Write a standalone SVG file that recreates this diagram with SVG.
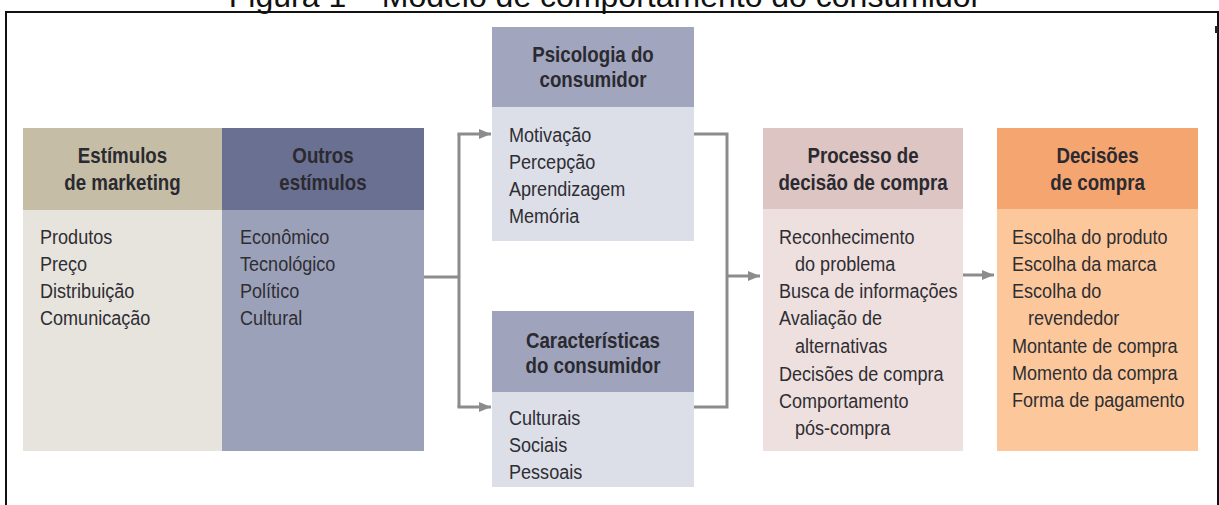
<svg xmlns="http://www.w3.org/2000/svg" width="1219" height="505" viewBox="0 0 1219 505">
<defs>
<style>
.title{font-family:"Liberation Sans",Arial,sans-serif;font-size:32px;fill:#111;text-anchor:middle}
.hd{font-family:"Liberation Sans",Arial,sans-serif;font-weight:bold;font-size:22px;fill:#2a2a30;text-anchor:middle;transform-box:fill-box;transform-origin:50% 50%;transform:scaleX(0.85)}
.bd{font-family:"Liberation Sans",Arial,sans-serif;font-size:21px;fill:#2e2e33;transform-box:fill-box;transform-origin:0% 50%;transform:scaleX(0.86)}
.conn{fill:none;stroke:#8c8c8c;stroke-width:3}
</style>
<marker id="arr" viewBox="0 0 12 10" refX="12" refY="5" markerWidth="12" markerHeight="10" markerUnits="userSpaceOnUse" orient="auto">
<path d="M0,0 L12,5 L0,10 z" fill="#8c8c8c"/>
</marker>
</defs>
<rect width="1219" height="505" fill="#ffffff"/>
<text class="title" x="605" y="7">Figura 1 – Modelo de comportamento do consumidor</text>
<rect x="6" y="12" width="1212" height="520" fill="none" stroke="#111" stroke-width="2"/>
<rect x="1215" y="26" width="3" height="7" fill="#222"/>

<g id="estimulos-marketing">
<rect x="23" y="128" width="199" height="323" fill="#e7e4de"/>
<rect x="23" y="128" width="199" height="82" fill="#c5bda5"/>
<text class="hd" x="122.5" y="163">Estímulos</text>
<text class="hd" x="122.5" y="190">de marketing</text>
<text class="bd" x="40" y="244">Produtos</text>
<text class="bd" x="40" y="271">Preço</text>
<text class="bd" x="40" y="298">Distribuição</text>
<text class="bd" x="40" y="325">Comunicação</text>
</g>

<g id="outros-estimulos">
<rect x="222" y="128" width="202" height="323" fill="#9ca1ba"/>
<rect x="222" y="128" width="202" height="82" fill="#6a7091"/>
<text class="hd" x="323" y="163">Outros</text>
<text class="hd" x="323" y="190">estímulos</text>
<text class="bd" x="240" y="244">Econômico</text>
<text class="bd" x="240" y="271">Tecnológico</text>
<text class="bd" x="240" y="298">Político</text>
<text class="bd" x="240" y="325">Cultural</text>
</g>

<g id="psicologia">
<rect x="492" y="27" width="202" height="214" fill="#dcdee8"/>
<rect x="492" y="27" width="202" height="80" fill="#a1a5bd"/>
<text class="hd" x="593" y="62">Psicologia do</text>
<text class="hd" x="593" y="87">consumidor</text>
<text class="bd" x="509" y="142">Motivação</text>
<text class="bd" x="509" y="169">Percepção</text>
<text class="bd" x="509" y="196">Aprendizagem</text>
<text class="bd" x="509" y="223">Memória</text>
</g>

<g id="caracteristicas">
<rect x="492" y="311" width="202" height="176" fill="#dcdee8"/>
<rect x="492" y="311" width="202" height="81" fill="#9fa3bb"/>
<text class="hd" x="593" y="348">Características</text>
<text class="hd" x="593" y="373">do consumidor</text>
<text class="bd" x="509" y="425">Culturais</text>
<text class="bd" x="509" y="452">Sociais</text>
<text class="bd" x="509" y="479">Pessoais</text>
</g>

<g id="processo">
<rect x="763" y="128" width="200" height="323" fill="#eee0df"/>
<rect x="763" y="128" width="200" height="81" fill="#dcc5c2"/>
<text class="hd" x="863" y="163">Processo de</text>
<text class="hd" x="863" y="190">decisão de compra</text>
<text class="bd" x="779" y="244">Reconhecimento</text>
<text class="bd" x="795" y="271">do problema</text>
<text class="bd" x="779" y="298">Busca de informações</text>
<text class="bd" x="779" y="325">Avaliação de</text>
<text class="bd" x="795" y="353">alternativas</text>
<text class="bd" x="779" y="381">Decisões de compra</text>
<text class="bd" x="779" y="408">Comportamento</text>
<text class="bd" x="795" y="435">pós-compra</text>
</g>

<g id="decisoes">
<rect x="997" y="128" width="201" height="323" fill="#fcc89b"/>
<rect x="997" y="128" width="201" height="81" fill="#f5a570"/>
<text class="hd" x="1097.5" y="163">Decisões</text>
<text class="hd" x="1097.5" y="190">de compra</text>
<text class="bd" x="1012" y="244">Escolha do produto</text>
<text class="bd" x="1012" y="271">Escolha da marca</text>
<text class="bd" x="1012" y="298">Escolha do</text>
<text class="bd" x="1028" y="325">revendedor</text>
<text class="bd" x="1012" y="353">Montante de compra</text>
<text class="bd" x="1012" y="380">Momento da compra</text>
<text class="bd" x="1012" y="407">Forma de pagamento</text>
</g>

<g id="connectors">
<path class="conn" d="M424,277 H459"/>
<path class="conn" d="M459,134 V407"/>
<path class="conn" d="M457.5,134 H491" marker-end="url(#arr)"/>
<path class="conn" d="M457.5,407 H491" marker-end="url(#arr)"/>
<path class="conn" d="M694,134 H727 V407 H694"/>
<path class="conn" d="M727,276 H760" marker-end="url(#arr)"/>
<path class="conn" d="M963,275 H994" marker-end="url(#arr)"/>
</g>
</svg>
